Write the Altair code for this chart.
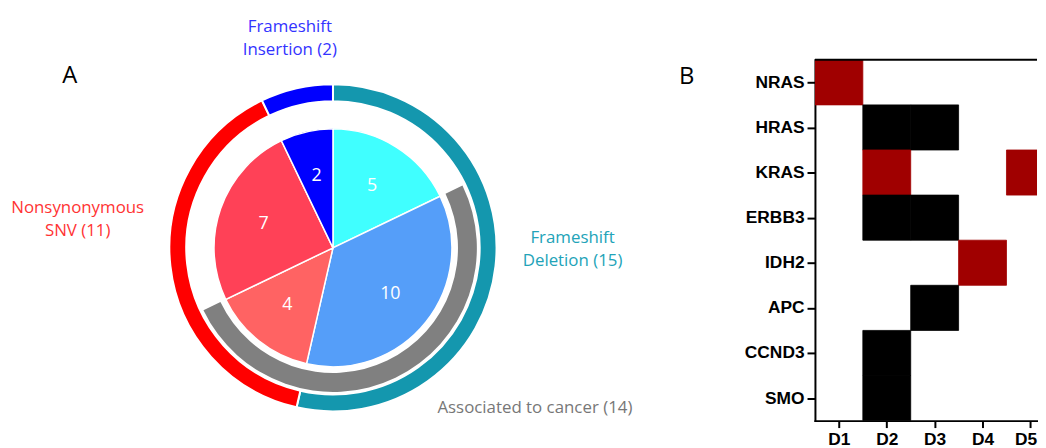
import json
import altair as alt
import pandas as pd

# ---------------- Panel A data ----------------
slice_names = ["Deletion (other)", "Deletion (cancer)", "SNV (cancer)", "SNV (other)", "Insertion"]
slice_counts = [5, 10, 4, 7, 2]
slice_colors = ["#40FFFF", "#559EF9", "#FF6363", "#FF4157", "#0000FF"]

type_names = ["Frameshift Deletion", "Nonsynonymous SNV", "Frameshift Insertion"]
type_counts = [15, 11, 2]
type_colors = ["#1497AE", "#FF0000", "#0000FF"]

assoc_parts = ["before", "Associated to cancer", "after"]
assoc_counts = [5, 14, 9]
assoc_shown = [0, 1, 0]

# ---------------- Panel B data ----------------
genes = ["NRAS", "HRAS", "KRAS", "ERBB3", "IDH2", "APC", "CCND3", "SMO"]
donors = ["D1", "D2", "D3", "D4", "D5"]
hit_gene = ["NRAS", "HRAS", "HRAS", "KRAS", "KRAS", "ERBB3", "ERBB3", "IDH2", "APC", "CCND3", "SMO"]
hit_donor = ["D1", "D2", "D3", "D2", "D5", "D2", "D3", "D4", "D3", "D2", "D2"]
hit_kind = ["SNV", "Indel", "Indel", "SNV", "SNV", "Indel", "Indel", "SNV", "Indel", "Indel", "Indel"]
kind_names = ["SNV", "Indel"]
kind_colors = ["#A00000", "#000000"]

# ---------------- layout constants ----------------
CX, CY = 327.8, 240.0
FONT = "Open Sans"
A_W, A_H = 700, 440
GAP = 114
B_W, B_TOP, B_BOTTOM = 224, 50.3, 414.3
COL_PX = 48.3
B_VISIBLE_COLS = B_W / COL_PX

pie_df = pd.DataFrame({"idx": range(len(slice_names)), "name": slice_names, "count": slice_counts})
type_df = pd.DataFrame({"idx": range(len(type_names)), "name": type_names, "count": type_counts})
assoc_df = pd.DataFrame({"idx": range(len(assoc_parts)), "name": assoc_parts,
                         "count": assoc_counts, "shown": assoc_shown})

center = dict(x=alt.value(CX), y=alt.value(CY))

outer = alt.Chart(type_df).mark_arc(radius=165, radius2=148, stroke="white", strokeWidth=2).encode(
    theta=alt.Theta("count:Q", stack=True),
    order=alt.Order("idx:Q"),
    color=alt.Color("name:N", scale=alt.Scale(domain=type_names, range=type_colors), legend=None),
    **center,
)
gray = alt.Chart(assoc_df).mark_arc(radius=145, radius2=126, fill="#808080").encode(
    theta=alt.Theta("count:Q", stack=True),
    order=alt.Order("idx:Q"),
    opacity=alt.Opacity("shown:Q", scale=None),
    **center,
)
pie = alt.Chart(pie_df).mark_arc(radius=120, stroke="white", strokeWidth=1.5).encode(
    theta=alt.Theta("count:Q", stack=True),
    order=alt.Order("idx:Q"),
    color=alt.Color("name:N", scale=alt.Scale(domain=slice_names, range=slice_colors), legend=None),
    **center,
)
pie_text = alt.Chart(pie_df).mark_text(radius=74, font=FONT, fontSize=18, color="white",
                                       align="center", baseline="middle").encode(
    theta=alt.Theta("count:Q", stack=True),
    order=alt.Order("idx:Q"),
    text=alt.Text("count:Q"),
    **center,
)


def note(text, x, y, color, size=17, font=FONT):
    return alt.Chart(alt.Data(values=[{"k": 1}])).mark_text(
        text=text, font=font, fontSize=size, color=color, align="center",
        baseline="alphabetic",
    ).encode(x=alt.value(x), y=alt.value(y))


LH = 23.5
notes = [
    note("Frameshift", 284.3, 22.0, "#3333FF"),
    note("Insertion (2)", 284.3, 22.0 + LH, "#3333FF"),
    note("Nonsynonymous", 70.3, 205.0, "#FF3333"),
    note("SNV (11)", 70.3, 205.0 + LH, "#FF3333"),
    note("Frameshift", 569.5, 235.0, "#22A3B8"),
    note("Deletion (15)", 569.5, 235.0 + LH, "#22A3B8"),
    note("Associated to cancer (14)", 531.5, 406.5, "#777777"),
    note("A", 62.3, 74.0, "black", size=24),
    note("B", 684.5, 74.5, "black", size=24),
]

panel_a = alt.layer(outer, gray, pie, pie_text, *notes).resolve_scale(color="independent").properties(
    width=A_W, height=A_H)

# ---------------- Panel B ----------------
heat_df = pd.DataFrame({
    "gene": hit_gene,
    "donor": hit_donor,
    "kind": hit_kind,
})
heat_df["c0"] = heat_df["donor"].map(donors.index)
heat_df["c1"] = heat_df["c0"] + 1
heat_df["r0"] = heat_df["gene"].map(genes.index)
heat_df["r1"] = heat_df["r0"] + 1

axis_common = dict(
    title=None, grid=False, domainColor="black", domainWidth=2, domainCap="square",
    tickColor="black", tickWidth=2,
    labelFont="Liberation Sans", labelFontWeight="bold", labelFontSize=17.5, labelColor="black",
)

xscale = alt.Scale(domain=[0, B_VISIBLE_COLS], nice=False, zero=False)
yscale = alt.Scale(domain=[0, len(genes)], range=[B_TOP, B_BOTTOM], nice=False, zero=False)
kind_scale = alt.Scale(domain=kind_names, range=kind_colors)
y_axis = alt.Axis(
    values=[i + 0.5 for i in range(len(genes))],
    labelExpr=json.dumps(genes) + "[floor(datum.value)]",
    tickSize=8, labelPadding=3, **axis_common)
x_axis = alt.Axis(
    values=[i + 0.5 for i in range(len(donors))],
    labelExpr=json.dumps(donors) + "[floor(datum.value)]",
    labelOffset=alt.ExprRef(f"datum.value > {B_VISIBLE_COLS - 0.5} ? -5 : 0"),
    tickSize=7, labelPadding=3, **axis_common)

cells = alt.Chart(heat_df).mark_rect(clip=True, strokeWidth=0.8).encode(
    x=alt.X("c0:Q", scale=xscale, axis=x_axis),
    x2="c1:Q",
    y=alt.Y("r0:Q", scale=yscale, axis=y_axis),
    y2="r1:Q",
    color=alt.Color("kind:N", scale=kind_scale, legend=None),
    stroke=alt.Stroke("kind:N", scale=kind_scale, legend=None),
)

top_line = alt.Chart(pd.DataFrame({"r0": [0]})).mark_rule(color="black", strokeWidth=2).encode(
    y=alt.Y("r0:Q", scale=yscale, axis=y_axis),
    x=alt.value(0),
    x2=alt.value(B_W),
)

panel_b = alt.layer(cells, top_line).properties(width=B_W, height=B_BOTTOM)

chart = alt.hconcat(panel_a, panel_b, spacing=GAP, bounds="flush").properties(
    padding=0, background="white"
).configure_view(strokeWidth=0, stroke="transparent")

chart.save("out.html", embed_options={"renderer": "svg", "actions": False})
